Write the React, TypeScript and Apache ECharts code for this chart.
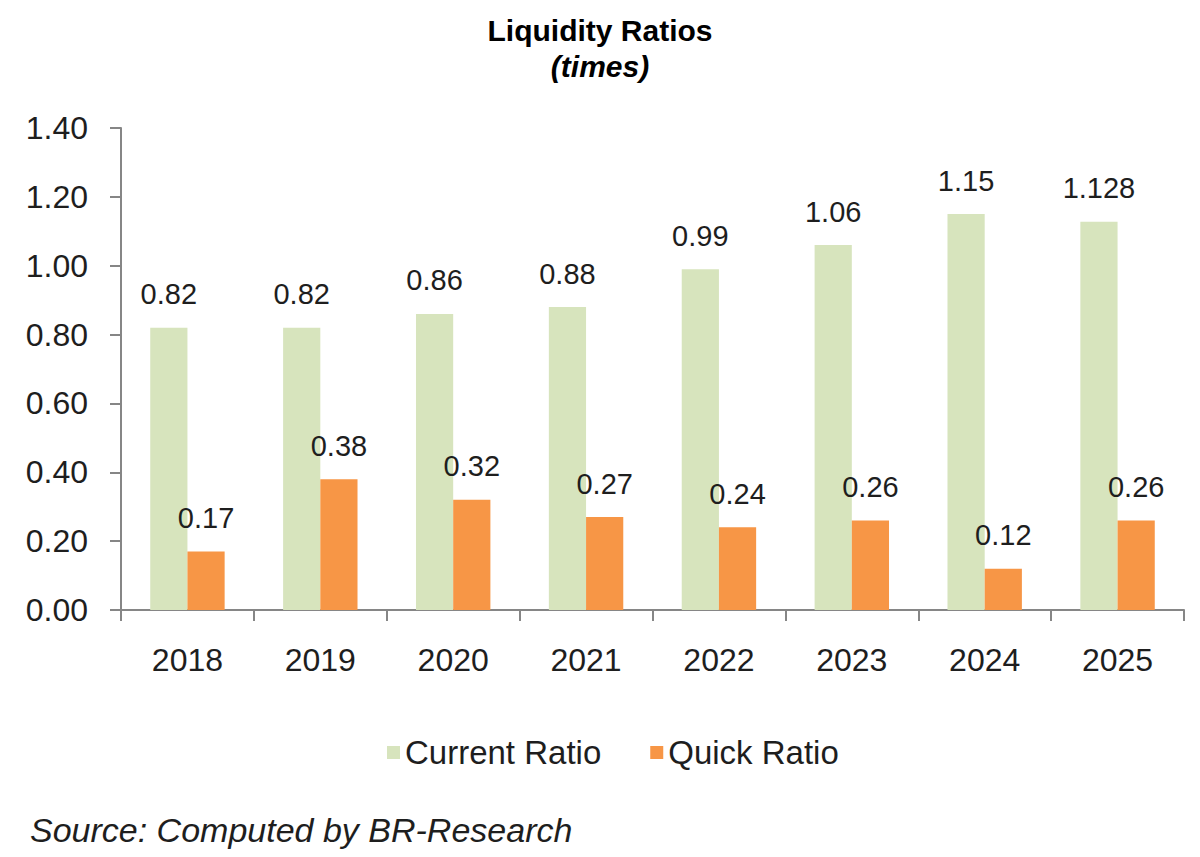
import { useEffect, useRef } from 'react';
import * as echarts from 'echarts';
import type { EChartsOption } from 'echarts';

const years = ['2018', '2019', '2020', '2021', '2022', '2023', '2024', '2025'];
const currentRatio = [0.82, 0.82, 0.86, 0.88, 0.99, 1.06, 1.15, 1.128];
const quickRatio = [0.17, 0.38, 0.32, 0.27, 0.24, 0.26, 0.12, 0.26];
const yTicks = [0, 0.2, 0.4, 0.6, 0.8, 1.0, 1.2, 1.4];

const FONT = "'Liberation Sans', Arial, sans-serif";
const TEXT = '#1e1e1e';
const AXIS = '#868686';

function buildOption(): EChartsOption {
  const label = {
    show: true,
    position: 'top' as const,
    distance: 19,
    fontFamily: FONT,
    fontSize: 29,
    color: TEXT,
    formatter: (p: { value: number }) => String(p.value)
  };
  return {
    animation: false,
    textStyle: { fontFamily: FONT },
    title: [
      {
        text: 'Liquidity Ratios',
        left: 'center',
        top: 10,
        textStyle: { fontFamily: FONT, fontSize: 30, fontWeight: 'bold', color: '#000' }
      },
      {
        text: '(times)',
        left: 'center',
        top: 46,
        textStyle: { fontFamily: FONT, fontSize: 30, fontWeight: 'bold', fontStyle: 'italic', color: '#000' }
      }
    ],
    legend: {
      left: 382,
      top: 731,
      icon: 'rect',
      itemWidth: 13,
      itemHeight: 13,
      itemGap: 49,
      textStyle: { fontFamily: FONT, fontSize: 33, color: TEXT },
      data: ['Current Ratio', 'Quick Ratio']
    },
    grid: { left: 121, right: 16, top: 128, bottom: 247 },
    xAxis: {
      type: 'category',
      data: years,
      axisLine: { lineStyle: { color: AXIS, width: 2 } },
      axisTick: { show: true, length: 11, lineStyle: { color: AXIS, width: 2 } },
      axisLabel: { fontFamily: FONT, fontSize: 32, color: TEXT, margin: 34 }
    },
    yAxis: {
      type: 'value',
      min: yTicks[0],
      max: yTicks[yTicks.length - 1],
      interval: 0.2,
      splitLine: { show: false },
      axisLine: { show: true, lineStyle: { color: AXIS, width: 2 } },
      axisTick: { show: true, length: 11, lineStyle: { color: AXIS, width: 2 } },
      axisLabel: {
        fontFamily: FONT,
        fontSize: 32,
        color: TEXT,
        margin: 33,
        formatter: (v: number) => v.toFixed(2)
      }
    },
    series: [
      {
        name: 'Current Ratio',
        type: 'bar',
        data: currentRatio,
        barWidth: '28%',
        barGap: '0%',
        itemStyle: { color: '#d7e4bd' },
        label
      },
      {
        name: 'Quick Ratio',
        type: 'bar',
        data: quickRatio,
        barWidth: '28%',
        barGap: '0%',
        itemStyle: { color: '#f79646' },
        label
      }
    ],
    graphic: [
      {
        type: 'text',
        left: 30,
        top: 813,
        style: {
          text: 'Source: Computed by BR-Research',
          font: `italic 34px ${FONT}`,
          fill: TEXT
        }
      }
    ]
  };
}

export default function App() {
  const ref = useRef<HTMLDivElement | null>(null);

  useEffect(() => {
    document.body.style.margin = '0';
    if (!ref.current) return undefined;
    const chart = echarts.init(ref.current, undefined, { renderer: 'svg' });
    chart.setOption(buildOption());
    return () => chart.dispose();
  }, []);

  return <div ref={ref} style={{ width: 1200, height: 857, background: '#fff' }} />;
}
